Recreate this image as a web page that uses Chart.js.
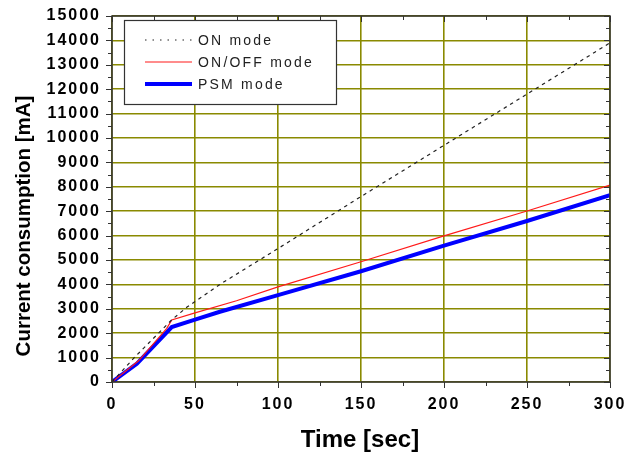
<!DOCTYPE html>
<html lang="en">
<head>
  <meta charset="UTF-8" />
  <title>Current consumption</title>
  <script src="https://cdn.jsdelivr.net/npm/chart.js"></script>
  <style>
    body { margin: 0; background: #ffffff; }
    #wrap { width: 638px; height: 452px; }
  </style>
</head>
<body>
  <div id="wrap"><canvas id="chart" width="638" height="452"></canvas></div>
  <script>
    // values
    const onTime = [0, 13, 36, 45, 65, 100, 150, 200, 250, 300];
    const onValues = [0, 970, 2550, 3060, 4000, 5470, 7600, 9700, 11800, 13900];
    const onOffTime = [0, 16, 33, 36, 50, 75, 100, 150, 200, 250, 300];
    const onOffValues = [0, 870, 2200, 2540, 2830, 3330, 3900, 4930, 5990, 7010, 8070];
    const psmTime = [0, 15, 36, 50, 65, 100, 150, 200, 250, 300];
    const psmValues = [0, 750, 2250, 2560, 2880, 3560, 4540, 5590, 6600, 7660];
    const seriesNames = ["ON mode", "ON/OFF mode", "PSM mode"];
    const yTitle = "Current consumption [mA]";
    const xTitle = "Time [sec]";

    function toPoints(xs, ys) {
      return xs.map((x, i) => ({ x: x, y: ys[i] }));
    }

    const frameColor = "#333333";
    const fontFam = "Arial, 'Liberation Sans', sans-serif";

    // the original's tick numbers are spaced out a bit
    const spacing = {
      id: "spacing",
      beforeDraw(chart) { chart.ctx.letterSpacing = "2px"; },
      beforeDatasetsDraw(chart) { chart.ctx.letterSpacing = "0px"; }
    };

    // frame + ticks on all four sides (major & minor), axis titles
    const framePlugin = {
      id: "frame",
      afterDraw(chart) {
        const ctx = chart.ctx;
        const a = chart.chartArea;
        const xs = chart.scales.x, ys = chart.scales.y;
        ctx.save();
        ctx.letterSpacing = "0px";
        ctx.strokeStyle = frameColor;
        ctx.lineWidth = 1.5;
        ctx.strokeRect(a.left, a.top, a.right - a.left, a.bottom - a.top);
        ctx.lineWidth = 1;
        ctx.beginPath();
        for (let v = 0; v <= 300; v += 25) {
          const px = Math.round(xs.getPixelForValue(v)) + 0.5;
          const len = v % 50 === 0 ? 6 : 4;
          ctx.moveTo(px, a.bottom); ctx.lineTo(px, a.bottom + len);
          ctx.moveTo(px, a.top); ctx.lineTo(px, a.top + len);
        }
        for (let v = 0; v <= 15000; v += 500) {
          const py = Math.round(ys.getPixelForValue(v)) + 0.5;
          const len = v % 1000 === 0 ? 6 : 4;
          ctx.moveTo(a.left, py); ctx.lineTo(a.left - len, py);
          ctx.moveTo(a.right, py); ctx.lineTo(a.right - len, py);
        }
        ctx.stroke();

        ctx.fillStyle = "#000000";
        ctx.textAlign = "center";

        // x axis title
        ctx.font = "bold 24px " + fontFam;
        ctx.textBaseline = "alphabetic";
        ctx.fillText(xTitle, 360, 447);

        // y axis title, sits a bit below the middle in the original
        ctx.save();
        ctx.translate(24, 226);
        ctx.rotate(-Math.PI / 2);
        ctx.font = "bold 20.5px " + fontFam;
        ctx.textBaseline = "middle";
        ctx.fillText(yTitle, 0, 0);
        ctx.restore();
        ctx.restore();
      }
    };

    // boxed legend inside the plot, upper left
    const boxLegend = {
      id: "boxLegend",
      afterDraw(chart) {
        const ctx = chart.ctx;
        const a = chart.chartArea;
        const bx = a.left + 12, by = a.top + 4, bw = 212, bh = 84;
        ctx.save();
        ctx.fillStyle = "#ffffff";
        ctx.fillRect(bx, by, bw, bh);
        ctx.strokeStyle = frameColor;
        ctx.lineWidth = 1.2;
        ctx.strokeRect(bx + 0.5, by + 0.5, bw, bh);
        ctx.font = "14px " + fontFam;
        ctx.letterSpacing = "2.2px";
        ctx.textBaseline = "middle";
        chart.data.datasets.forEach((ds, i) => {
          const y = by + 20 + i * 22;
          ctx.beginPath();
          ctx.strokeStyle = ds.borderColor;
          ctx.lineWidth = ds.borderWidth;
          ctx.setLineDash(i === 0 ? [1.5, 6] : []);
          ctx.moveTo(bx + 21, y);
          ctx.lineTo(bx + 68, y);
          ctx.stroke();
          ctx.setLineDash([]);
          ctx.fillStyle = "#222222";
          ctx.fillText(ds.label, bx + 74, y + 1);
        });
        ctx.restore();
      }
    };

    const ctx = document.getElementById("chart").getContext("2d");
    new Chart(ctx, {
      type: "line",
      data: {
        datasets: [
          {
            label: seriesNames[0],
            data: toPoints(onTime, onValues),
            borderColor: "#222222",
            borderWidth: 1.2,
            borderDash: [3.5, 4],
            pointRadius: 0,
            tension: 0
          },
          {
            label: seriesNames[1],
            data: toPoints(onOffTime, onOffValues),
            borderColor: "#ff1a1a",
            borderWidth: 1.2,
            pointRadius: 0,
            tension: 0
          },
          {
            label: seriesNames[2],
            data: toPoints(psmTime, psmValues),
            borderColor: "#0000ff",
            borderWidth: 4,
            pointRadius: 0,
            tension: 0
          }
        ]
      },
      options: {
        responsive: false,
        animation: false,
        layout: { padding: { left: 0, right: 28, top: 16, bottom: 0 } },
        plugins: {
          legend: { display: false },
          tooltip: { enabled: false }
        },
        scales: {
          x: {
            type: "linear",
            min: 0,
            max: 300,
            afterFit(scale) {
              scale.height = 70;
              scale.paddingLeft = 0;
              scale.paddingRight = 0;
            },
            ticks: {
              stepSize: 50,
              padding: 13,
              color: "#000000",
              callback: (v) => String(v),
              font: { family: fontFam, size: 16, weight: "bold" }
            },
            grid: { color: "#8a8a00", lineWidth: 1.6, drawTicks: false },
            border: { display: false }
          },
          y: {
            min: 0,
            max: 15000,
            afterFit(scale) {
              scale.width = 112;
              scale.paddingTop = 0;
              scale.paddingBottom = 0;
            },
            ticks: {
              stepSize: 1000,
              padding: 11,
              color: "#000000",
              callback: (v) => String(v),
              font: { family: fontFam, size: 16, weight: "bold" }
            },
            grid: { color: "#8a8a00", lineWidth: 1.6, drawTicks: false },
            border: { display: false }
          }
        }
      },
      plugins: [spacing, framePlugin, boxLegend]
    });
  </script>
</body>
</html>
